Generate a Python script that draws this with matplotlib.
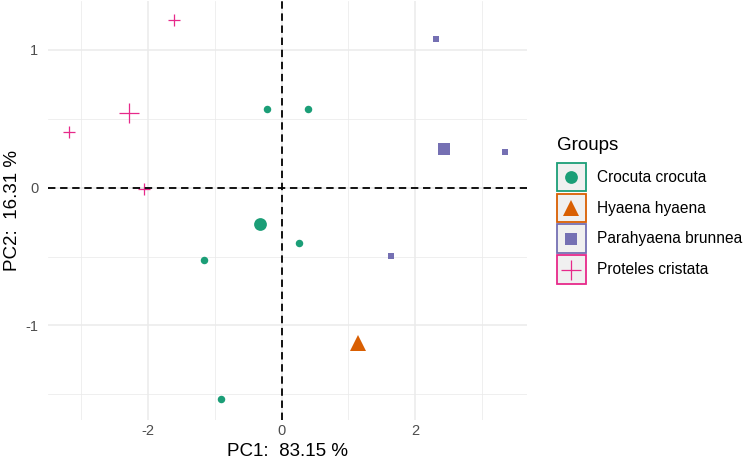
import matplotlib
matplotlib.use("Agg")
import matplotlib.pyplot as plt
from matplotlib.patches import Rectangle

plt.rcParams['font.family'] = ['Liberation Sans', 'DejaVu Sans']
plt.rcParams['axes.unicode_minus'] = False

# Datos
grupos = ["Crocuta crocuta", "Hyaena hyaena", "Parahyaena brunnea", "Proteles cristata"]
colores = ["#1B9E77", "#D95F02", "#7570B3", "#E7298A"]
marcadores = ["o", "^", "s", "+"]

crocuta_x = [-0.22, 0.40, 0.26, -1.16, -0.91]
crocuta_y = [0.569, 0.569, -0.401, -0.525, -1.536]
hyaena_x = [1.15]
hyaena_y = [-1.13]
parahyaena_x = [2.31, 3.35, 1.64]
parahyaena_y = [1.077, 0.261, -0.498]
proteles_x = [-1.61, -3.18, -2.06]
proteles_y = [1.217, 0.402, -0.012]

centro_x = [-0.32, 1.15, 2.43, -2.28]
centro_y = [-0.266, -1.13, 0.281, 0.540]

puntos_x = [crocuta_x, hyaena_x, parahyaena_x, proteles_x]
puntos_y = [crocuta_y, hyaena_y, parahyaena_y, proteles_y]

tam_chico = [5.4, 8.0, 5.0, 8.6]
tam_grande = [9.2, 11.5, 9.3, 14.4]

W, H = 744, 462
fig = plt.figure(figsize=(W / 100, H / 100), dpi=100)
x0, x1, y0, y1 = 47.5, 527, 1.3, 419.6
ax = fig.add_axes([x0 / W, (H - y1) / H, (x1 - x0) / W, (y1 - y0) / H])

# Grilla estilo theme_minimal
for s in ax.spines.values():
    s.set_visible(False)
ax.set_xlim(-3.503, 3.675)
ax.set_ylim(-1.683, 1.353)
ax.set_xticks([-2, 0, 2])
ax.set_yticks([-1, 0, 1])
ax.set_xticks([-3, -1, 1, 3], minor=True)
ax.set_yticks([-1.5, -0.5, 0.5], minor=True)
ax.grid(True, which='major', color='#EBEBEB', lw=1.1, zorder=0)
ax.grid(True, which='minor', color='#EBEBEB', lw=0.55, zorder=0)
ax.set_axisbelow(True)
ax.tick_params(which='both', length=0, labelsize=10.5, labelcolor='#4D4D4D')
ax.tick_params(axis='x', pad=3.5)
ax.tick_params(axis='y', pad=6.5)

for i in range(len(grupos)):
    ms_kw = dict(color=colores[i], ls='none', marker=marcadores[i], zorder=2)
    if marcadores[i] == '+':
        ms_kw['mew'] = 0.9
    else:
        ms_kw['mew'] = 0
    ax.plot(puntos_x[i], puntos_y[i], ms=tam_chico[i], **ms_kw)
    ax.plot([centro_x[i]], [centro_y[i]], ms=tam_grande[i], **ms_kw)

ax.axhline(0, color='black', lw=1.3, ls=(0, (4.1, 2.6)), zorder=3)
ax.axvline(0, color='black', lw=1.3, ls=(0, (4.1, 2.6)), zorder=3)

ax.set_xlabel("PC1:  83.15 %", fontsize=13.5, color='black', va='center')
ax.set_ylabel("PC2:  16.31 %", fontsize=13.5, color='black', va='center')
ax.xaxis.set_label_coords(0.5, (y1 - 451.5) / (y1 - y0))
ax.yaxis.set_label_coords((12.5 - x0) / (x1 - x0), 0.5)

# Leyenda dibujada a mano en pixeles
leg = fig.add_axes([0, 0, 1, 1])
leg.set_xlim(0, W)
leg.set_ylim(H, 0)
leg.axis('off')
leg.text(556.7, 145, "Groups", fontsize=13.5, va='center', ha='left')
paso = 30.8
for i, g in enumerate(grupos):
    cy = 177.2 + i * paso
    leg.add_patch(Rectangle((557, cy - 14.3), 28.6, 28.6, facecolor='#F0F0F0',
                            edgecolor=colores[i], lw=1.3))
    kw = dict(color=colores[i], ls='none', marker=marcadores[i])
    kw['mew'] = 0.9 if marcadores[i] == '+' else 0
    leg.plot([571.3], [cy], ms=tam_grande[i], **kw)
    leg.text(597.3, cy, g, fontsize=11.2, va='center', ha='left')

fig.savefig("out.png", dpi=100)
